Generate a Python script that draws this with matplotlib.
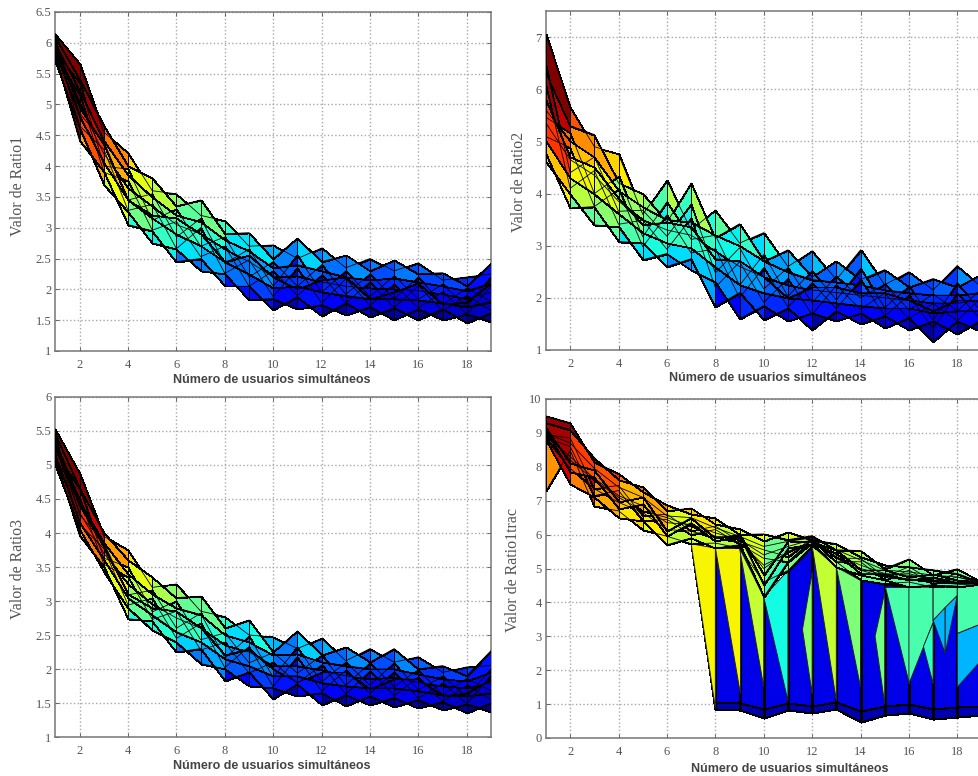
import numpy as np
import matplotlib
matplotlib.use('Agg')
import matplotlib.pyplot as plt

W, H = 979, 776

users = list(range(1, 20))
xticks = list(range(2, 20, 2))
xlab = 'Número de usuarios simultáneos'

# ratio1 rows
r1a = [6.15, 5.65, 4.55, 4.22, 3.60, 3.55, 3.20, 3.11, 2.70, 2.72, 2.50, 2.67, 2.35, 2.50, 2.30, 2.43, 2.15, 2.20, 2.25]
r1b = [6.10, 5.40, 4.65, 4.00, 3.80, 3.35, 3.45, 2.90, 2.92, 2.50, 2.83, 2.45, 2.55, 2.30, 2.47, 2.25, 2.27, 2.05, 2.42]
r1c = [6.00, 5.20, 4.40, 3.85, 3.50, 3.20, 3.10, 2.80, 2.62, 2.35, 2.40, 2.30, 2.20, 2.15, 2.18, 2.12, 2.05, 1.98, 2.10]
r1d = [5.95, 5.00, 4.20, 3.65, 3.35, 3.05, 2.90, 2.65, 2.45, 2.20, 2.22, 2.12, 2.05, 2.02, 2.00, 1.98, 1.92, 1.85, 1.95]
r1e = [5.85, 4.80, 4.05, 3.45, 3.15, 2.90, 2.70, 2.45, 2.25, 2.02, 2.05, 1.95, 1.90, 1.85, 1.85, 1.82, 1.78, 1.72, 1.80]
r1f = [5.78, 4.40, 3.90, 3.05, 2.95, 2.45, 2.50, 2.05, 2.05, 1.67, 1.88, 1.57, 1.78, 1.55, 1.70, 1.51, 1.68, 1.46, 1.62]
r1g = [5.70, 4.60, 3.70, 3.25, 2.75, 2.65, 2.30, 2.25, 1.83, 1.85, 1.68, 1.75, 1.58, 1.72, 1.51, 1.68, 1.50, 1.60, 1.47]
r1h = [6.05, 4.85, 4.40, 3.45, 3.55, 2.85, 3.15, 2.42, 2.65, 2.05, 2.55, 1.95, 2.30, 1.88, 2.22, 1.84, 2.08, 1.72, 2.20]
r1i = [5.85, 5.35, 4.00, 3.95, 3.12, 3.30, 2.70, 2.85, 2.20, 2.45, 2.05, 2.40, 1.92, 2.25, 1.85, 2.20, 1.75, 2.02, 1.80]
r1j = [5.97, 4.65, 4.27, 3.28, 3.38, 2.66, 3.00, 2.26, 2.48, 1.88, 2.35, 1.78, 2.17, 1.74, 2.08, 1.70, 1.96, 1.60, 2.05]
r1k = [5.79, 5.15, 3.90, 3.75, 2.96, 3.10, 2.53, 2.70, 2.05, 2.30, 1.90, 2.23, 1.78, 2.12, 1.70, 2.06, 1.65, 1.90, 1.66]
r1l = [5.92, 4.95, 4.35, 3.45, 3.20, 3.15, 2.90, 2.45, 2.55, 2.20, 2.00, 2.15, 2.20, 1.85, 1.95, 2.10, 1.75, 1.80, 2.10]

# ratio2 rows
r2a = [7.05, 5.65, 4.90, 4.75, 3.60, 4.25, 3.30, 3.68, 3.05, 3.25, 2.60, 2.90, 2.35, 2.92, 2.25, 2.50, 2.15, 2.62, 2.20]
r2b = [6.30, 5.30, 5.13, 4.20, 4.00, 3.45, 4.20, 3.15, 3.42, 2.70, 2.92, 2.40, 2.70, 2.35, 2.54, 2.20, 2.37, 2.20, 2.45]
r2c = [5.60, 5.00, 4.70, 4.05, 3.75, 3.50, 3.45, 3.20, 3.00, 2.70, 2.50, 2.35, 2.30, 2.25, 2.15, 2.10, 2.05, 2.05, 2.10]
r2d = [5.35, 4.65, 4.35, 3.85, 3.50, 3.30, 3.20, 2.90, 2.60, 2.40, 2.25, 2.15, 2.10, 2.05, 2.00, 1.95, 1.90, 1.90, 1.95]
r2e = [5.00, 4.30, 4.00, 3.60, 3.25, 3.05, 2.95, 2.60, 2.25, 2.10, 2.00, 1.95, 1.90, 1.85, 1.80, 1.80, 1.70, 1.75, 1.75]
r2f = [4.75, 3.72, 3.75, 3.08, 3.05, 2.60, 2.75, 1.83, 2.10, 1.58, 1.80, 1.38, 1.75, 1.50, 1.65, 1.38, 1.55, 1.30, 1.58]
r2g = [4.60, 4.00, 3.40, 3.35, 2.73, 2.85, 2.53, 2.30, 1.60, 1.85, 1.55, 1.70, 1.56, 1.70, 1.42, 1.62, 1.16, 1.55, 1.35]
r2h = [6.44, 4.40, 4.70, 3.66, 3.68, 3.18, 3.79, 2.48, 2.96, 2.17, 2.58, 1.91, 2.41, 2.00, 2.26, 1.77, 2.07, 1.75, 2.17]
r2i = [5.46, 5.17, 4.00, 4.33, 3.17, 3.84, 3.12, 3.20, 2.24, 2.83, 2.03, 2.52, 1.96, 2.56, 1.81, 2.22, 1.58, 2.29, 1.73]
r2j = [6.07, 4.10, 4.44, 3.41, 3.49, 2.93, 3.53, 2.20, 2.69, 1.91, 2.37, 1.68, 2.24, 1.78, 2.09, 1.60, 1.89, 1.56, 2.01]
r2k = [5.09, 4.88, 3.75, 4.08, 2.98, 3.59, 2.86, 2.94, 2.00, 2.58, 1.82, 2.29, 1.79, 2.35, 1.65, 2.05, 1.41, 2.09, 1.57]
r2l = [5.80, 4.70, 4.50, 3.90, 3.40, 3.45, 3.35, 2.75, 2.70, 2.40, 2.00, 2.20, 2.20, 2.10, 2.10, 1.95, 1.75, 1.95, 1.95]

# ratio3 rows
r3a = [5.53, 4.87, 3.95, 3.75, 3.20, 3.25, 2.85, 2.77, 2.50, 2.47, 2.30, 2.45, 2.12, 2.30, 2.10, 2.18, 1.95, 2.03, 2.05]
r3b = [5.45, 4.65, 4.00, 3.60, 3.35, 3.05, 3.07, 2.60, 2.72, 2.25, 2.56, 2.20, 2.32, 2.10, 2.30, 2.00, 2.05, 1.90, 2.27]
r3c = [5.35, 4.45, 3.85, 3.40, 3.10, 2.90, 2.80, 2.50, 2.40, 2.20, 2.22, 2.10, 2.05, 2.00, 2.00, 1.92, 1.85, 1.82, 1.95]
r3d = [5.25, 4.30, 3.70, 3.25, 2.95, 2.75, 2.60, 2.35, 2.25, 2.05, 2.05, 1.98, 1.90, 1.85, 1.88, 1.80, 1.75, 1.72, 1.80]
r3e = [5.15, 4.15, 3.60, 3.05, 2.80, 2.55, 2.40, 2.15, 2.05, 1.90, 1.90, 1.80, 1.75, 1.72, 1.72, 1.68, 1.62, 1.60, 1.65]
r3f = [5.08, 3.95, 3.50, 2.74, 2.70, 2.25, 2.30, 1.83, 1.95, 1.56, 1.78, 1.47, 1.62, 1.47, 1.58, 1.42, 1.52, 1.35, 1.50]
r3g = [5.00, 4.05, 3.43, 2.90, 2.57, 2.40, 2.08, 2.00, 1.75, 1.72, 1.60, 1.65, 1.46, 1.60, 1.44, 1.55, 1.39, 1.48, 1.37]
r3h = [5.40, 4.27, 3.86, 3.09, 3.16, 2.60, 2.82, 2.16, 2.48, 1.88, 2.32, 1.81, 2.10, 1.76, 2.09, 1.69, 1.89, 1.59, 2.00]
r3i = [5.19, 4.64, 3.63, 3.50, 2.84, 3.00, 2.43, 2.53, 2.09, 2.24, 1.94, 2.20, 1.76, 2.09, 1.74, 1.99, 1.62, 1.86, 1.68]
r3j = [5.32, 4.13, 3.77, 2.94, 3.04, 2.45, 2.67, 2.02, 2.33, 1.74, 2.18, 1.67, 1.98, 1.64, 1.96, 1.57, 1.79, 1.49, 1.91]
r3k = [5.11, 4.50, 3.54, 3.35, 2.73, 2.85, 2.28, 2.39, 1.94, 2.10, 1.79, 2.06, 1.63, 1.97, 1.61, 1.88, 1.52, 1.76, 1.55]
r3l = [5.26, 4.40, 3.80, 3.10, 2.90, 2.85, 2.60, 2.20, 2.30, 2.00, 1.80, 1.95, 1.95, 1.70, 1.85, 1.85, 1.60, 1.65, 1.85]

# ratio1trac rows (upper band)
r4a = [9.50, 9.30, 8.15, 7.80, 7.25, 6.88, 6.60, 6.48, 6.00, 6.02, 5.85, 5.97, 5.55, 5.53, 5.00, 5.28, 4.80, 4.99, 4.60]
r4b = [9.30, 9.10, 8.27, 7.60, 7.40, 6.70, 6.78, 6.30, 6.17, 5.80, 6.07, 5.85, 5.73, 5.35, 5.09, 5.05, 4.96, 4.85, 4.58]
r4c = [9.00, 8.70, 7.95, 7.40, 7.10, 6.55, 6.50, 6.20, 5.95, 5.65, 5.80, 5.90, 5.55, 5.25, 4.95, 4.90, 4.80, 4.75, 4.60]
r4d = [8.90, 8.30, 7.65, 7.15, 6.85, 6.35, 6.30, 6.05, 5.85, 5.40, 5.65, 5.85, 5.40, 5.10, 4.85, 4.80, 4.70, 4.65, 4.58]
r4e = [8.85, 7.95, 7.35, 6.95, 6.65, 6.15, 6.10, 5.90, 5.78, 5.10, 5.45, 5.80, 5.30, 4.95, 4.75, 4.70, 4.60, 4.58, 4.56]
r4f = [8.80, 7.48, 7.10, 6.49, 6.40, 5.70, 5.90, 5.60, 5.70, 4.16, 5.20, 5.75, 5.04, 4.80, 4.65, 4.45, 4.52, 4.45, 4.55]
r4g = [7.28, 8.48, 6.83, 6.70, 6.14, 5.95, 5.73, 5.75, 5.60, 4.60, 4.94, 5.67, 5.20, 4.65, 4.55, 4.60, 4.45, 4.52, 4.55]
r4h = [9.15, 8.10, 7.90, 6.95, 7.10, 6.10, 6.50, 5.90, 6.00, 4.80, 5.80, 5.78, 5.55, 4.95, 4.95, 4.75, 4.83, 4.65, 4.59]
r4i = [8.95, 8.85, 7.35, 7.45, 6.55, 6.60, 6.10, 6.25, 5.80, 5.55, 5.35, 5.90, 5.30, 5.30, 4.75, 5.05, 4.63, 4.85, 4.57]
r4j = [9.10, 7.85, 7.70, 6.75, 6.90, 5.95, 6.35, 5.80, 5.95, 4.50, 5.60, 5.72, 5.45, 4.85, 4.85, 4.65, 4.75, 4.58, 4.58]
r4k = [8.85, 8.60, 7.15, 7.30, 6.40, 6.45, 6.00, 6.15, 5.72, 5.30, 5.20, 5.85, 5.20, 5.20, 4.65, 4.95, 4.55, 4.75, 4.56]
r4l = [9.05, 8.20, 7.60, 7.10, 6.70, 6.50, 6.25, 5.95, 5.90, 5.00, 5.50, 5.80, 5.35, 5.00, 4.80, 4.85, 4.65, 4.60, 4.57]

# ratio1trac drape, x = 7..19
drape_x = [7, 8, 9, 10, 11, 12, 13, 14, 15, 16, 17, 18, 19]
drape_top = [5.73, 5.60, 5.60, 4.16, 4.94, 5.67, 5.04, 4.65, 4.55, 4.45, 4.45, 4.45, 4.55]
drape_mid = [5.73, 1.05, 1.02, 0.85, 1.02, 0.95, 1.05, 0.80, 0.95, 1.00, 0.85, 0.90, 0.95]
drape_low = [5.73, 0.87, 0.82, 0.58, 0.84, 0.73, 0.87, 0.48, 0.68, 0.73, 0.56, 0.63, 0.68]

# coloured wedges over the drape
wedge_x0 = [7, 8, 9, 10, 11.6, 12, 13, 14.6, 15, 16, 16.6, 17, 17, 17.5, 18, 18]
wedge_x1 = [8, 9, 10, 11, 12, 13, 14, 15, 16, 17, 17, 18, 17.5, 18, 19, 19]
wedge_lh = [5.73, 5.60, 5.60, 4.16, 3.20, 5.67, 5.04, 3.00, 4.45, 4.45, 2.70, 4.45, 3.47, 3.85, 4.45, 3.08]
wedge_ll = [5.73, 5.60, 5.60, 4.16, 3.20, 5.67, 5.04, 3.00, 4.45, 1.60, 2.70, 3.47, 3.47, 2.50, 3.08, 1.50]
wedge_rh = [5.60, 5.60, 4.16, 4.94, 4.90, 5.04, 4.65, 4.30, 4.45, 4.45, 3.40, 4.45, 3.85, 4.20, 4.55, 3.37]
wedge_rl = [0.87, 1.30, 1.50, 1.10, 1.30, 1.10, 1.50, 1.00, 1.60, 3.40, 1.60, 4.20, 2.50, 4.20, 3.37, 2.30]
wedge_c = [6.34, 6.34, 5.8, 3.86, 5.2, 5.8, 5.0, 4.9, 4.45, 4.45, 4.2, 4.45, 3.2, 3.2, 4.45, 3.2]


def px_axes(left, right, top, bottom):
    return fig.add_axes([left / W, 1 - bottom / H, (right - left) / W, (bottom - top) / H])


def draw_panel(ax, rows, ylim, yticks, ylabels, ylabel, xlab_px, ylab_px, box):
    Y = np.array(rows)
    X = np.tile(users, (Y.shape[0], 1))
    ax.pcolormesh(X, Y, Y[:-1, :-1], cmap='jet', vmin=vlims[ylabel][0], vmax=vlims[ylabel][1],
                  edgecolors='black', linewidth=0.6, shading='flat', zorder=3)
    # every row stays visible on top of the faces, as in the projected surface
    for row in rows:
        ax.plot(users, row, color='black', lw=0.6, zorder=4)
    ax.set_xlim(1, 19)
    ax.set_ylim(*ylim)
    ax.set_xticks(xticks)
    ax.set_yticks(yticks)
    ax.set_yticklabels(ylabels)
    ax.grid(True, color='#a8a8a8', linestyle=':', linewidth=1.0)
    ax.set_axisbelow(True)
    ax.tick_params(direction='in', length=3, width=0.7, color='#666666', labelcolor='#555555',
                   labelsize=9, top=True, right=True)
    ax.tick_params(axis='x', pad=6)
    ax.tick_params(axis='y', pad=3)
    for lab in ax.get_xticklabels() + ax.get_yticklabels():
        lab.set_family('Liberation Serif')
    for s in ax.spines.values():
        s.set_color('#777777')
        s.set_linewidth(1.1)
    left, right, top, bottom = box
    ax.set_xlabel(xlab, family='Liberation Sans', weight='bold', fontsize=9, color='#444444')
    ax.xaxis.set_label_coords((xlab_px[0] - left) / (right - left), (bottom - xlab_px[1]) / (bottom - top))
    ax.xaxis.label.set_va('center')
    ax.set_ylabel(ylabel, family='Liberation Serif', fontsize=11.5, color='#555555')
    ax.yaxis.set_label_coords((ylab_px[0] - left) / (right - left), (bottom - ylab_px[1]) / (bottom - top))
    ax.yaxis.label.set_va('center')


vlims = {'Valor de Ratio1': (1.5, 5.5), 'Valor de Ratio2': (1.2, 6.6),
         'Valor de Ratio3': (1.4, 4.9), 'Valor de Ratio1trac': (0.48, 9.50)}

half_ticks = [1, 1.5, 2, 2.5, 3, 3.5, 4, 4.5, 5, 5.5, 6, 6.5]
half_labels = ['1', '1.5', '2', '2.5', '3', '3.5', '4', '4.5', '5', '5.5', '6', '6.5']

fig = plt.figure(figsize=(W / 100, H / 100), dpi=100)

box1 = (55.5, 491, 12, 351)
ax1 = px_axes(*box1)
draw_panel(ax1, [r1a, r1b, r1h, r1i, r1c, r1j, r1k, r1d, r1l, r1e, r1f, r1g], (1, 6.5), half_ticks, half_labels,
           'Valor de Ratio1', (272, 380), (18, 186), box1)

box2 = (546, 981.5, 11, 350)
ax2 = px_axes(*box2)
draw_panel(ax2, [r2a, r2b, r2h, r2i, r2c, r2j, r2k, r2d, r2l, r2e, r2f, r2g], (1, 7.5), [1, 2, 3, 4, 5, 6, 7],
           ['1', '2', '3', '4', '5', '6', '7'], 'Valor de Ratio2', (768, 378), (519, 182), box2)

box3 = (55.5, 491, 397, 737)
ax3 = px_axes(*box3)
draw_panel(ax3, [r3a, r3b, r3h, r3i, r3c, r3j, r3k, r3d, r3l, r3e, r3f, r3g], (1, 6), half_ticks[:-1], half_labels[:-1],
           'Valor de Ratio3', (272, 766), (18, 569), box3)

box4 = (546, 981.5, 399, 738)
ax4 = px_axes(*box4)
# bottom row first here so the orange wedge at x=1 stays under the rest
draw_panel(ax4, [r4g, r4f, r4e, r4k, r4d, r4i, r4l, r4c, r4j, r4h, r4b, r4a], (0, 10), list(range(0, 11)),
           [str(v) for v in range(0, 11)], 'Valor de Ratio1trac', (790, 769), (513, 570), box4)

lo4, hi4 = vlims['Valor de Ratio1trac']
dy = np.array([drape_top, drape_mid, drape_low])
dx = np.tile(drape_x, (3, 1))
dc = np.vstack([np.full(12, 1.3), np.full(12, 0.9)])
ax4.pcolormesh(dx, dy, dc, cmap='jet', vmin=lo4, vmax=hi4, edgecolors='black', linewidth=0.8,
               shading='flat', zorder=2)
for i in range(len(wedge_x0)):
    ax4.fill([wedge_x0[i], wedge_x1[i], wedge_x1[i], wedge_x0[i]],
             [wedge_lh[i], wedge_rh[i], wedge_rl[i], wedge_ll[i]],
             color=plt.cm.jet((wedge_c[i] - lo4) / (hi4 - lo4)), ec='#222222', lw=0.7, zorder=2.5)

fig.savefig('out.png', dpi=100)
